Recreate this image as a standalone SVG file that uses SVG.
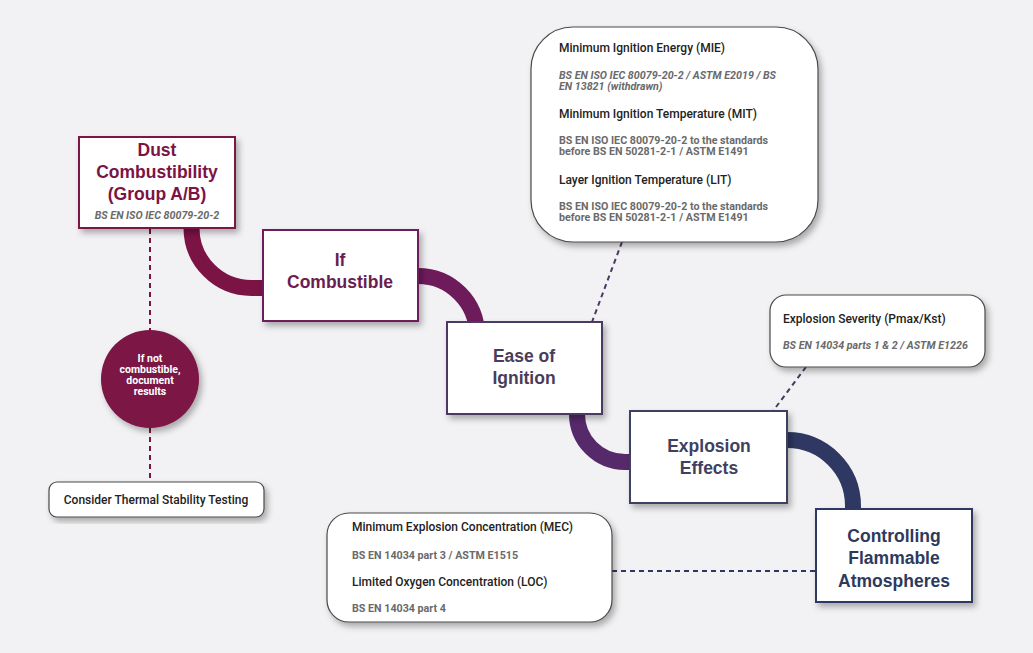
<svg xmlns="http://www.w3.org/2000/svg" width="1033" height="653" viewBox="0 0 1033 653">
<defs>
<filter id="sh" x="-20%" y="-20%" width="140%" height="140%">
<feDropShadow dx="3" dy="4" stdDeviation="3" flood-color="#000" flood-opacity="0.3"/>
</filter>
<style>
.box{fill:#fff;stroke-width:2;filter:url(#sh)}
.call{fill:#fff;stroke:#4a4a4a;stroke-width:1.2;filter:url(#sh)}
.t{font-family:"Liberation Sans",Arial,sans-serif;font-weight:bold;font-size:17.5px;text-anchor:middle}
.h{font-family:Roboto,"Liberation Sans",sans-serif;font-weight:500;font-size:12px;fill:#222}
.g{font-family:Roboto,"Liberation Sans",sans-serif;font-weight:bold;font-size:10.7px;fill:#6a6a6a}
.gi{font-family:Roboto,"Liberation Sans",sans-serif;font-weight:bold;font-style:italic;font-size:10.7px;fill:#6a6a6a}
.arc{fill:none;stroke-width:16}
.dash{fill:none;stroke-width:2;stroke-dasharray:5 4}
</style>
</defs>
<rect width="1033" height="653" fill="#f2f1f3"/>
<g id="connectors">
<path class="arc" stroke="#7b1345" d="M191.5,226 L191.5,228 A60,60 0 0 0 251.5,288 L266,288"/>
<path class="arc" stroke="#6e1b5b" d="M416,276 L418,276 A59,59 0 0 1 477,335"/>
<path class="arc" stroke="#56296b" d="M577,412 L577,414 A48,48 0 0 0 625,462 L632,462"/>
<path class="arc" stroke="#2e3862" d="M785,440 L787,440 A66,66 0 0 1 853,506 L853,511"/>
<path class="dash" stroke="#7b1345" d="M150,229 L150,330 M150,428 L150,483"/>
<path class="dash" stroke="#4c3863" d="M622,242 L592,322"/>
<path class="dash" stroke="#3d4060" d="M806,367 L773,411"/>
<path class="dash" stroke="#2e3862" d="M612,571 L816,571"/>
</g>
<g id="dust">
<rect class="box" x="79" y="137" width="156" height="91" stroke="#7b1345"/>
<text class="t" fill="#7b1345" x="157" y="156">Dust</text>
<text class="t" fill="#7b1345" x="157" y="178">Combustibility</text>
<text class="t" fill="#7b1345" x="157" y="200">(Group A/B)</text>
<text class="gi" x="157" y="219" text-anchor="middle">BS EN ISO IEC 80079-20-2</text>
</g>
<g id="notcomb">
<circle cx="150" cy="379" r="49" fill="#7b1345" filter="url(#sh)"/>
<text font-family="Roboto,'Liberation Sans',sans-serif" font-weight="bold" font-size="10.5" fill="#fff" text-anchor="middle">
<tspan x="150" y="362">If not</tspan><tspan x="150" y="373">combustible,</tspan><tspan x="150" y="384">document</tspan><tspan x="150" y="395">results</tspan></text>
</g>
<g id="thermal">
<rect class="call" x="49" y="482" width="215" height="35" rx="8"/>
<text class="h" x="156" y="504" text-anchor="middle">Consider Thermal Stability Testing</text>
</g>
<g id="ifcomb">
<rect class="box" x="263" y="230" width="155" height="91" stroke="#6e1b5b"/>
<text class="t" fill="#6b1d4f" x="340" y="266">If</text>
<text class="t" fill="#6b1d4f" x="340" y="288">Combustible</text>
</g>
<g id="ease">
<rect class="box" x="447" y="322" width="155" height="92" stroke="#4c3863"/>
<text class="t" fill="#4a3c5a" x="524" y="362">Ease of</text>
<text class="t" fill="#4a3c5a" x="524" y="384">Ignition</text>
</g>
<g id="ignition-tests">
<rect class="call" x="531" y="27" width="287" height="215" rx="42"/>
<text class="h" x="559" y="52">Minimum Ignition Energy (MIE)</text>
<text class="gi" x="559" y="79">BS EN ISO IEC 80079-20-2 / ASTM E2019 / BS</text>
<text class="gi" x="559" y="90">EN 13821 (withdrawn)</text>
<text class="h" x="559" y="118">Minimum Ignition Temperature (MIT)</text>
<text class="g" x="559" y="144">BS EN ISO IEC 80079-20-2 to the standards</text>
<text class="g" x="559" y="155">before BS EN 50281-2-1 / ASTM E1491</text>
<text class="h" x="559" y="184">Layer Ignition Temperature (LIT)</text>
<text class="g" x="559" y="210">BS EN ISO IEC 80079-20-2 to the standards</text>
<text class="g" x="559" y="221">before BS EN 50281-2-1 / ASTM E1491</text>
</g>
<g id="effects">
<rect class="box" x="630" y="411" width="157" height="92" stroke="#3d4060"/>
<text class="t" fill="#3f4160" x="709" y="452">Explosion</text>
<text class="t" fill="#3f4160" x="709" y="474">Effects</text>
</g>
<g id="severity">
<rect class="call" x="770" y="295" width="215" height="72" rx="16"/>
<text class="h" x="783" y="323">Explosion Severity (Pmax/Kst)</text>
<text class="gi" x="783" y="349">BS EN 14034 parts 1 &amp; 2 / ASTM E1226</text>
</g>
<g id="controlling">
<rect class="box" x="816" y="509" width="156" height="93" stroke="#2e3862"/>
<text class="t" fill="#2e3a5c" x="894" y="542">Controlling</text>
<text class="t" fill="#2e3a5c" x="894" y="564">Flammable</text>
<text class="t" fill="#2e3a5c" x="894" y="587">Atmospheres</text>
</g>
<g id="concentration">
<rect class="call" x="327" y="513" width="285" height="109" rx="22"/>
<text class="h" x="352" y="531">Minimum Explosion Concentration (MEC)</text>
<text class="g" x="352" y="559">BS EN 14034 part 3 / ASTM E1515</text>
<text class="h" x="352" y="586">Limited Oxygen Concentration (LOC)</text>
<text class="g" x="352" y="612">BS EN 14034 part 4</text>
</g>
</svg>
